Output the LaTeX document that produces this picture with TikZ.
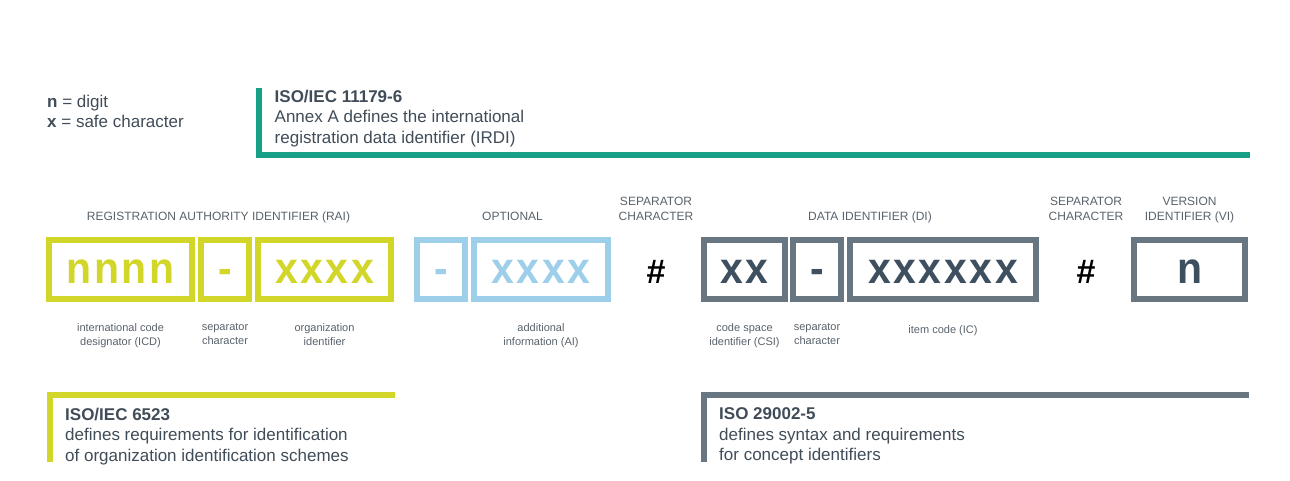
\documentclass[tikz,border=0pt]{standalone}
\usepackage{fontspec}
\setmainfont{Liberation Sans}
\newfontfamily\fieldfont{Liberation Sans}[FakeStretch=0.93, LetterSpace=6]
\usetikzlibrary{calc}

\definecolor{limegreen}{RGB}{210,214,40}
\definecolor{skyblue}{RGB}{158,207,234}
\definecolor{slategrey}{RGB}{104,118,130}
\definecolor{slateink}{RGB}{62,79,95}
\definecolor{isoteal}{RGB}{23,160,133}
\definecolor{labelgrey}{RGB}{88,98,108}
\definecolor{textgrey}{RGB}{64,76,88}

\tikzset{
	field/.style={draw=#1, text=#1, line width=6pt, minimum height=59pt,
		inner sep=0pt, text height=27pt, text depth=0pt,
		font=\fieldfont\fontsize{44}{44}\selectfont\bfseries},
	hashsign/.style={inner sep=0pt, font=\fontsize{34}{34}\selectfont\bfseries},
	heading/.style={text=labelgrey, inner sep=0pt, anchor=south, align=center,
		font=\fontsize{12}{15}\selectfont, execute at end node=\strut},
	note/.style={text=labelgrey, inner sep=0pt, anchor=north, align=center,
		font=\fontsize{11}{14}\selectfont, execute at begin node=\strut},
	spec/.style={text=textgrey, inner sep=0pt, anchor=north west, align=left,
		font=\fontsize{17}{20.5}\selectfont, execute at begin node=\strut},
	bracket/.style={line width=6pt, draw=#1},
}

\begin{document}
\begin{tikzpicture}[x=1pt, y=-1pt]
	\useasboundingbox (0,0) rectangle (1290,480);

	% Rows
	\coordinate (heads) at (0,225.5);
	\coordinate (notes) at (0,323.2);

	% Key
	\node[spec] (key) at (47,94.6) {\textbf{n} = digit\\\textbf{x} = safe character};

	% ISO/IEC 11179-6 bracket
	\coordinate (irdiTop) at (259,88);
	\coordinate (irdiCorner) at (259,154.5);
	\coordinate (irdiEnd) at (1250,154.5);
	\draw[bracket=isoteal] (irdiTop) -- (irdiCorner) -- (irdiEnd);
	\node[spec] (irdi) at (274.5,89.8)
		{\textbf{ISO/IEC 11179-6}\\Annex A defines the international\\registration data identifier (IRDI)};

	% Fields
	\node[field=limegreen, minimum width=143pt] (icd) at (120.5,269.5) {nnnn};
	\node[field=limegreen, minimum width=48pt] (sepA) at (225,269.5) {-};
	\node[field=limegreen, minimum width=133pt] (org) at (324.5,269.5) {xxxx};
	\node[field=skyblue, minimum width=48pt] (sepAI) at (441,269.5) {-};
	\node[field=skyblue, minimum width=134pt] (ai) at (541,269.5) {xxxx};
	\node[hashsign] (hashA) at (656,272) {\#};
	\node[field=slategrey, text=slateink, minimum width=81pt] (csi) at (744.5,269.5) {xx};
	\node[field=slategrey, text=slateink, minimum width=48pt] (sepB) at (817,269.5) {-};
	\node[field=slategrey, text=slateink, minimum width=186pt] (ic) at (943,269.5) {xxxxxx};
	\node[hashsign] (hashB) at (1086,272) {\#};
	\node[field=slategrey, text=slateink, minimum width=111pt] (vi) at (1189.5,269.5) {n};

	% Headings
	\node[heading] (raiHead) at (218.5,0 |- heads) {REGISTRATION AUTHORITY IDENTIFIER (RAI)};
	\node[heading] (optHead) at (512.5,0 |- heads) {OPTIONAL};
	\node[heading] (sepHeadA) at (hashA |- heads) {SEPARATOR\\CHARACTER};
	\node[heading] (diHead) at (870,0 |- heads) {DATA IDENTIFIER (DI)};
	\node[heading] (sepHeadB) at (hashB |- heads) {SEPARATOR\\CHARACTER};
	\node[heading] (viHead) at (vi |- heads) {VERSION\\IDENTIFIER (VI)};

	% Notes below the fields
	\node[note] (icdNote) at (icd |- notes) {international code\\designator (ICD)};
	\node[note] (sepANote) at (sepA |- notes) {separator\\character};
	\node[note] (orgNote) at (org |- notes) {organization\\identifier};
	\node[note] (aiNote) at (ai |- notes) {additional\\information (AI)};
	\node[note] (csiNote) at (csi |- notes) {code space\\identifier (CSI)};
	\node[note] (sepBNote) at (sepB |- notes) {separator\\character};
	\node[note] (icNote) at (ic |- notes) {item code (IC)};

	% ISO/IEC 6523 bracket
	\coordinate (icdStart) at (49.7,462);
	\coordinate (icdCorner) at (49.7,395.3);
	\coordinate (icdEnd) at (395,395.3);
	\draw[bracket=limegreen] (icdStart) -- (icdCorner) -- (icdEnd);
	\node[spec] (iso6523) at (65,407.5)
		{\textbf{ISO/IEC 6523}\\defines requirements for identification\\of organization identification schemes};

	% ISO 29002-5 bracket
	\coordinate (conceptStart) at (704,462);
	\coordinate (conceptCorner) at (704,395.3);
	\coordinate (conceptEnd) at (1249,395.3);
	\draw[bracket=slategrey] (conceptStart) -- (conceptCorner) -- (conceptEnd);
	\node[spec] (iso29002) at (719,407.5)
		{\textbf{ISO 29002-5}\\defines syntax and requirements\\for concept identifiers};
\end{tikzpicture}
\end{document}
